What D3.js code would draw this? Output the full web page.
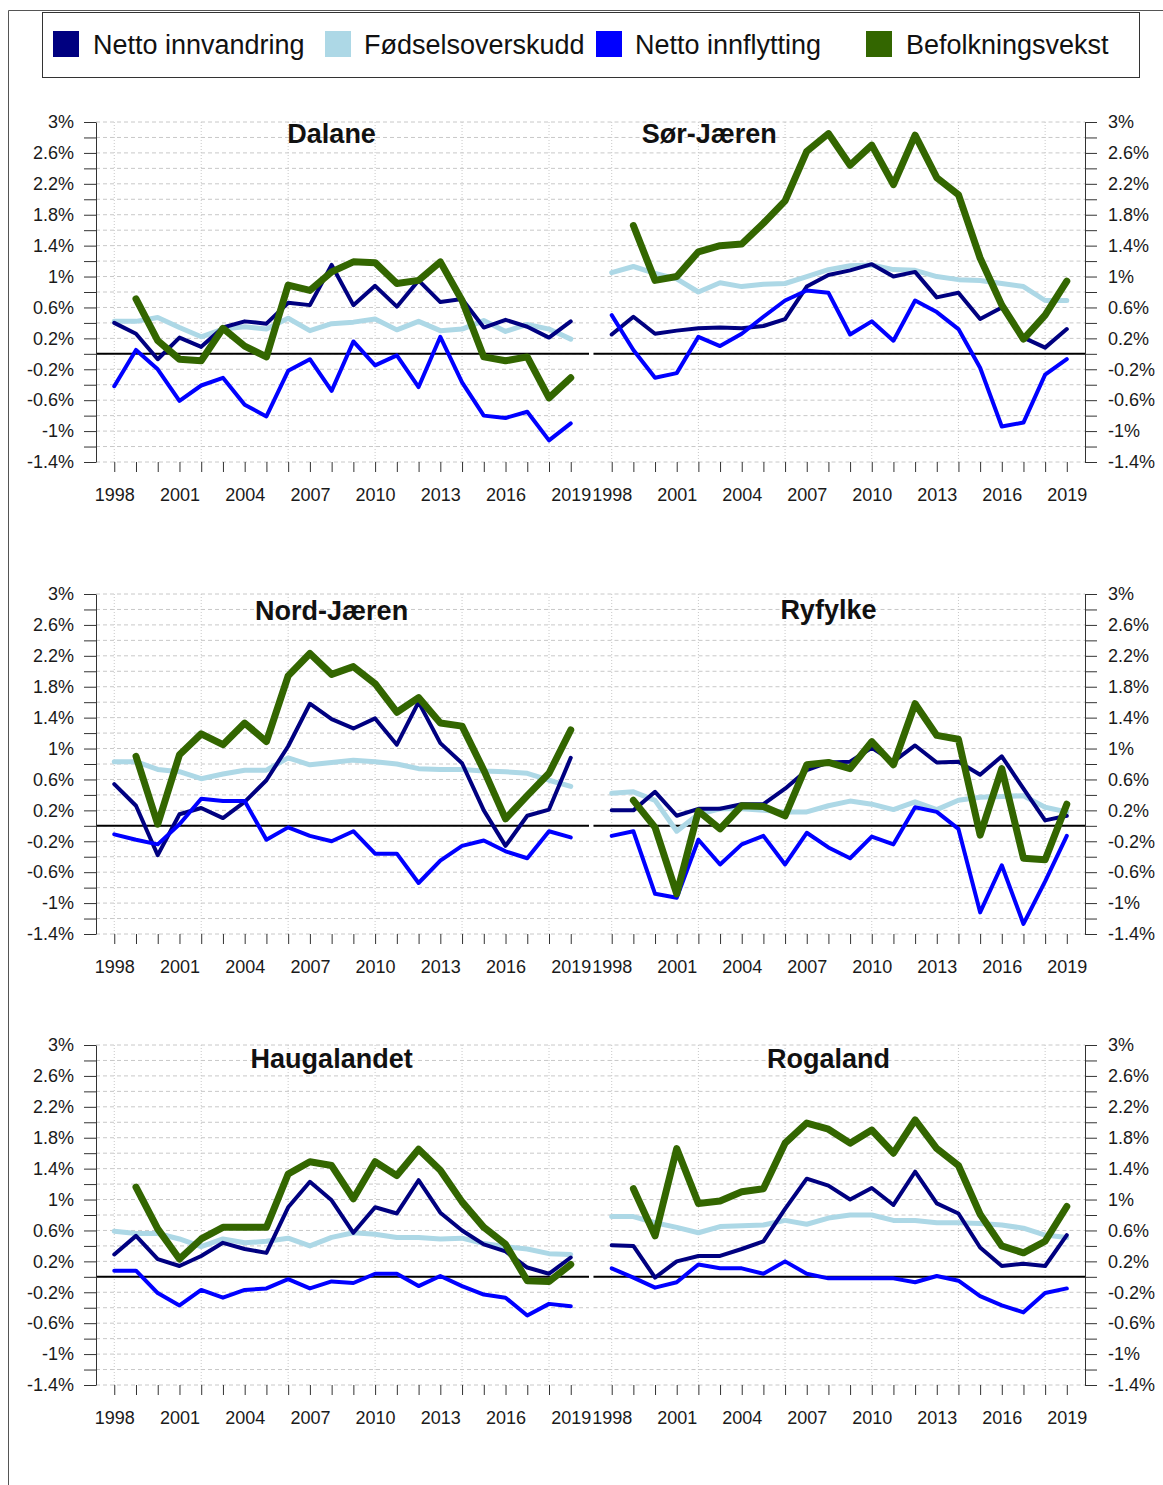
<!DOCTYPE html>
<html>
  <head>
    <meta charset="utf-8">
    <title>Befolkningsvekst Rogaland</title>
    <script src="https://cdn.jsdelivr.net/npm/d3@7"></script>
    <style>
      body { margin: 0; background: #fff; }
      svg { display: block; font-family: "Liberation Sans", Arial, sans-serif; }
      .tick text { font-size: 18px; fill: #1a1a1a; }
      .tick line { stroke: #333; }
      .domain { stroke: #333; }
    </style>
  </head>
  <body>
    <svg id="chart" width="1163" height="1485"></svg>

    <script>
      // data (percent of population)
      var years = [1998, 1999, 2000, 2001, 2002, 2003, 2004, 2005, 2006, 2007, 2008,
                   2009, 2010, 2011, 2012, 2013, 2014, 2015, 2016, 2017, 2018, 2019];
      var regions = ["Dalane", "Sør-Jæren", "Nord-Jæren", "Ryfylke", "Haugalandet", "Rogaland"];
      var seriesNames = ["Netto innvandring", "Fødselsoverskudd", "Netto innflytting", "Befolkningsvekst"];

      // one row per region, same order as regions
      var innvandring = [
        [0.40, 0.26, -0.07, 0.21, 0.09, 0.34, 0.42, 0.39, 0.66, 0.63, 1.15, 0.63, 0.88, 0.61, 0.95, 0.67, 0.71, 0.34, 0.44, 0.35, 0.21, 0.42],
        [0.25, 0.48, 0.26, 0.30, 0.33, 0.34, 0.33, 0.36, 0.45, 0.87, 1.02, 1.08, 1.16, 1.00, 1.06, 0.73, 0.79, 0.45, 0.60, 0.21, 0.08, 0.32],
        [0.54, 0.26, -0.38, 0.15, 0.23, 0.10, 0.31, 0.59, 1.03, 1.58, 1.38, 1.26, 1.39, 1.05, 1.60, 1.07, 0.81, 0.20, -0.26, 0.13, 0.21, 0.88],
        [0.20, 0.20, 0.44, 0.13, 0.22, 0.22, 0.28, 0.28, 0.48, 0.72, 0.82, 0.83, 1.01, 0.83, 1.04, 0.82, 0.83, 0.66, 0.90, 0.48, 0.07, 0.13],
        [0.29, 0.53, 0.23, 0.14, 0.27, 0.44, 0.36, 0.31, 0.90, 1.23, 0.99, 0.57, 0.90, 0.82, 1.25, 0.83, 0.60, 0.42, 0.33, 0.12, 0.04, 0.25],
        [0.41, 0.40, -0.01, 0.20, 0.27, 0.27, 0.36, 0.46, 0.88, 1.27, 1.18, 1.00, 1.15, 0.93, 1.36, 0.95, 0.82, 0.38, 0.14, 0.17, 0.14, 0.54]
      ];
      var fodselsoverskudd = [
        [0.42, 0.42, 0.47, 0.34, 0.22, 0.32, 0.35, 0.32, 0.46, 0.30, 0.39, 0.41, 0.45, 0.31, 0.42, 0.30, 0.32, 0.43, 0.29, 0.38, 0.32, 0.19],
        [1.05, 1.13, 1.04, 0.97, 0.80, 0.92, 0.87, 0.90, 0.91, 1.00, 1.09, 1.14, 1.15, 1.09, 1.08, 1.00, 0.96, 0.95, 0.91, 0.87, 0.69, 0.69],
        [0.83, 0.83, 0.73, 0.70, 0.61, 0.67, 0.72, 0.72, 0.88, 0.79, 0.82, 0.85, 0.83, 0.80, 0.74, 0.73, 0.73, 0.71, 0.70, 0.68, 0.59, 0.51],
        [0.42, 0.44, 0.33, -0.07, 0.15, 0.22, 0.22, 0.20, 0.18, 0.18, 0.26, 0.32, 0.28, 0.21, 0.31, 0.21, 0.33, 0.37, 0.38, 0.39, 0.24, 0.18],
        [0.59, 0.56, 0.56, 0.49, 0.39, 0.49, 0.44, 0.46, 0.50, 0.40, 0.51, 0.57, 0.55, 0.51, 0.51, 0.49, 0.50, 0.43, 0.39, 0.36, 0.30, 0.29],
        [0.78, 0.78, 0.70, 0.64, 0.57, 0.65, 0.66, 0.67, 0.73, 0.68, 0.76, 0.80, 0.80, 0.73, 0.73, 0.70, 0.70, 0.69, 0.67, 0.63, 0.54, 0.51]
      ];
      var innflytting = [
        [-0.42, 0.05, -0.20, -0.61, -0.41, -0.31, -0.66, -0.81, -0.22, -0.07, -0.48, 0.16, -0.15, -0.02, -0.43, 0.22, -0.37, -0.80, -0.83, -0.75, -1.12, -0.90],
        [0.50, 0.05, -0.31, -0.25, 0.22, 0.10, 0.26, 0.48, 0.69, 0.82, 0.79, 0.25, 0.42, 0.17, 0.69, 0.54, 0.32, -0.18, -0.94, -0.89, -0.27, -0.07],
        [-0.11, -0.18, -0.24, 0.02, 0.35, 0.32, 0.32, -0.18, -0.02, -0.13, -0.20, -0.07, -0.36, -0.36, -0.74, -0.45, -0.26, -0.19, -0.33, -0.42, -0.07, -0.15],
        [-0.13, -0.07, -0.88, -0.93, -0.18, -0.50, -0.24, -0.13, -0.50, -0.09, -0.28, -0.42, -0.14, -0.24, 0.24, 0.18, -0.04, -1.12, -0.51, -1.27, -0.72, -0.13],
        [0.08, 0.08, -0.21, -0.37, -0.17, -0.27, -0.17, -0.15, -0.03, -0.15, -0.06, -0.08, 0.04, 0.04, -0.12, 0.01, -0.12, -0.23, -0.27, -0.50, -0.35, -0.38],
        [0.11, -0.01, -0.14, -0.07, 0.16, 0.11, 0.11, 0.04, 0.20, 0.04, -0.02, -0.02, -0.02, -0.02, -0.07, 0.01, -0.05, -0.25, -0.37, -0.46, -0.21, -0.15]
      ];
      // no value for 1998
      var befolkningsvekst = [
        [null, 0.71, 0.17, -0.07, -0.09, 0.33, 0.10, -0.04, 0.89, 0.82, 1.06, 1.19, 1.18, 0.91, 0.95, 1.19, 0.69, -0.04, -0.09, -0.04, -0.57, -0.31],
        [null, 1.66, 0.95, 1.00, 1.32, 1.40, 1.42, 1.69, 1.98, 2.62, 2.85, 2.44, 2.70, 2.19, 2.83, 2.28, 2.06, 1.24, 0.63, 0.19, 0.50, 0.94],
        [null, 0.90, 0.02, 0.92, 1.19, 1.05, 1.33, 1.09, 1.94, 2.23, 1.96, 2.06, 1.84, 1.47, 1.66, 1.33, 1.29, 0.72, 0.09, 0.39, 0.68, 1.24],
        [null, 0.33, -0.02, -0.88, 0.19, -0.04, 0.26, 0.25, 0.13, 0.79, 0.82, 0.74, 1.09, 0.79, 1.58, 1.17, 1.12, -0.12, 0.74, -0.42, -0.44, 0.28],
        [null, 1.16, 0.62, 0.23, 0.49, 0.64, 0.64, 0.64, 1.33, 1.49, 1.44, 1.01, 1.49, 1.31, 1.65, 1.38, 0.97, 0.64, 0.42, -0.05, -0.06, 0.16],
        [null, 1.14, 0.53, 1.66, 0.95, 0.98, 1.10, 1.14, 1.73, 1.99, 1.91, 1.73, 1.90, 1.60, 2.03, 1.66, 1.44, 0.81, 0.40, 0.31, 0.46, 0.91]
      ];

      // axis ticks
      var yTicks = [-1.4, -1.2, -1, -0.8, -0.6, -0.4, -0.2, 0, 0.2, 0.4, 0.6, 0.8, 1, 1.2, 1.4, 1.6, 1.8, 2, 2.2, 2.4, 2.6, 2.8, 3];
      var yLabelled = [-1.4, -1, -0.6, -0.2, 0.2, 0.6, 1, 1.4, 1.8, 2.2, 2.6, 3];
      var xLabelled = [1998, 2001, 2004, 2007, 2010, 2013, 2016, 2019];
      var xGrid = [1998, 2002, 2006, 2010, 2014, 2018];

      // styling
      var colours = ["#000080", "#add8e6", "#0000ff", "#336600"];
      var widths = [4, 5, 4, 7];
      var drawOrder = [1, 0, 2, 3];

      // layout
      var colRange = [[96, 589], [593.5, 1085]];
      var rowTop = [122, 594, 1045];
      var panelHeight = 340;
      var titlePos = [[2008, 2.85], [2002.5, 2.85], [2008, 2.78], [2008, 2.8], [2008, 2.82], [2008, 2.82]];
      var legendSwatchX = [53, 325, 596, 866];
      var legendTextX = [93, 364, 635, 906];

      svg = d3.select("#chart");

      // frame
      svg.append("path")
        .attr("d", "M8.5,1485V10.5H1163")
        .attr("fill", "none")
        .attr("stroke", "#555")
        .attr("stroke-width", 1);

      // legend
      legend = svg.append("g");
      legend.append("rect")
        .attr("x", 42.5)
        .attr("y", 12.5)
        .attr("width", 1097)
        .attr("height", 65)
        .attr("fill", "#fff")
        .attr("stroke", "#333");
      seriesNames.forEach(function(d, i) {
        legend.append("rect")
          .attr("x", legendSwatchX[i])
          .attr("y", 31)
          .attr("width", 26)
          .attr("height", 26)
          .attr("fill", colours[i]);
        legend.append("text")
          .attr("x", legendTextX[i])
          .attr("y", 54)
          .attr("font-size", 27)
          .attr("fill", "#111")
          .text(d);
      });

      var lineSets = [innvandring, fodselsoverskudd, innflytting, befolkningsvekst];

      regions.forEach(function(name, r) {
        var col = r % 2;
        var row = Math.floor(r / 2);
        var x = d3.scaleLinear()
          .domain([1998 - 0.04 * 21, 2019 + 0.04 * 21])
          .range(colRange[col]);
        var y = d3.scaleLinear()
          .domain([-1.4, 3])
          .range([rowTop[row] + panelHeight, rowTop[row]]);
        var g = svg.append("g");

        // grid
        g.selectAll(".hgrid")
          .data(yTicks)
          .join("line")
            .attr("x1", colRange[col][0])
            .attr("x2", colRange[col][1])
            .attr("y1", function(d) { return y(d); })
            .attr("y2", function(d) { return y(d); })
            .attr("stroke", "#c8c8c8")
            .attr("stroke-dasharray", "4,3");
        g.selectAll(".vgrid")
          .data(xGrid)
          .join("line")
            .attr("x1", function(d) { return x(d); })
            .attr("x2", function(d) { return x(d); })
            .attr("y1", y(3))
            .attr("y2", y(-1.4))
            .attr("stroke", "#c8c8c8")
            .attr("stroke-dasharray", "1,2");

        // zero line
        g.append("line")
          .attr("x1", colRange[col][0])
          .attr("x2", colRange[col][1])
          .attr("y1", y(0))
          .attr("y2", y(0))
          .attr("stroke", "#000")
          .attr("stroke-width", 2);

        // y axis, left on left panels, right on right panels
        var yAxis = (col === 0 ? d3.axisLeft(y) : d3.axisRight(y))
          .tickValues(yTicks)
          .tickSize(12)
          .tickSizeOuter(0)
          .tickPadding(col === 0 ? 10 : 11)
          .tickFormat(function(d) {
            return yLabelled.indexOf(d) >= 0 ? d + "%" : "";
          });
        g.append("g")
          .attr("transform", "translate(" + colRange[col][col === 0 ? 0 : 1] + ",0)")
          .call(yAxis)
          .call(function(a) { a.selectAll("text").attr("font-family", null).attr("font-size", null); });

        // x axis, ticks every year
        var xAxis = d3.axisBottom(x)
          .tickValues(years)
          .tickSize(10)
          .tickSizeOuter(0)
          .tickPadding(16)
          .tickFormat(function(d) {
            return xLabelled.indexOf(d) >= 0 ? d : "";
          });
        g.append("g")
          .attr("transform", "translate(0," + y(-1.4) + ")")
          .call(xAxis)
          .call(function(a) {
            a.select(".domain").remove();
            a.selectAll("text").attr("font-family", null).attr("font-size", null);
          });

        // lines
        var line = d3.line()
          .defined(function(d) { return d != null; })
          .x(function(d, i) { return x(years[i]); })
          .y(function(d) { return y(d); });
        drawOrder.forEach(function(s) {
          g.append("path")
            .attr("d", line(lineSets[s][r]))
            .attr("fill", "none")
            .attr("stroke", colours[s])
            .attr("stroke-width", widths[s])
            .attr("stroke-linejoin", "round")
            .attr("stroke-linecap", "round");
        });

        // title
        g.append("text")
          .attr("x", x(titlePos[r][0]))
          .attr("y", y(titlePos[r][1]))
          .attr("dy", "0.35em")
          .attr("text-anchor", "middle")
          .attr("font-size", 27)
          .attr("font-weight", "bold")
          .attr("fill", "#111")
          .text(name);
      });
    </script>
  </body>
</html>
